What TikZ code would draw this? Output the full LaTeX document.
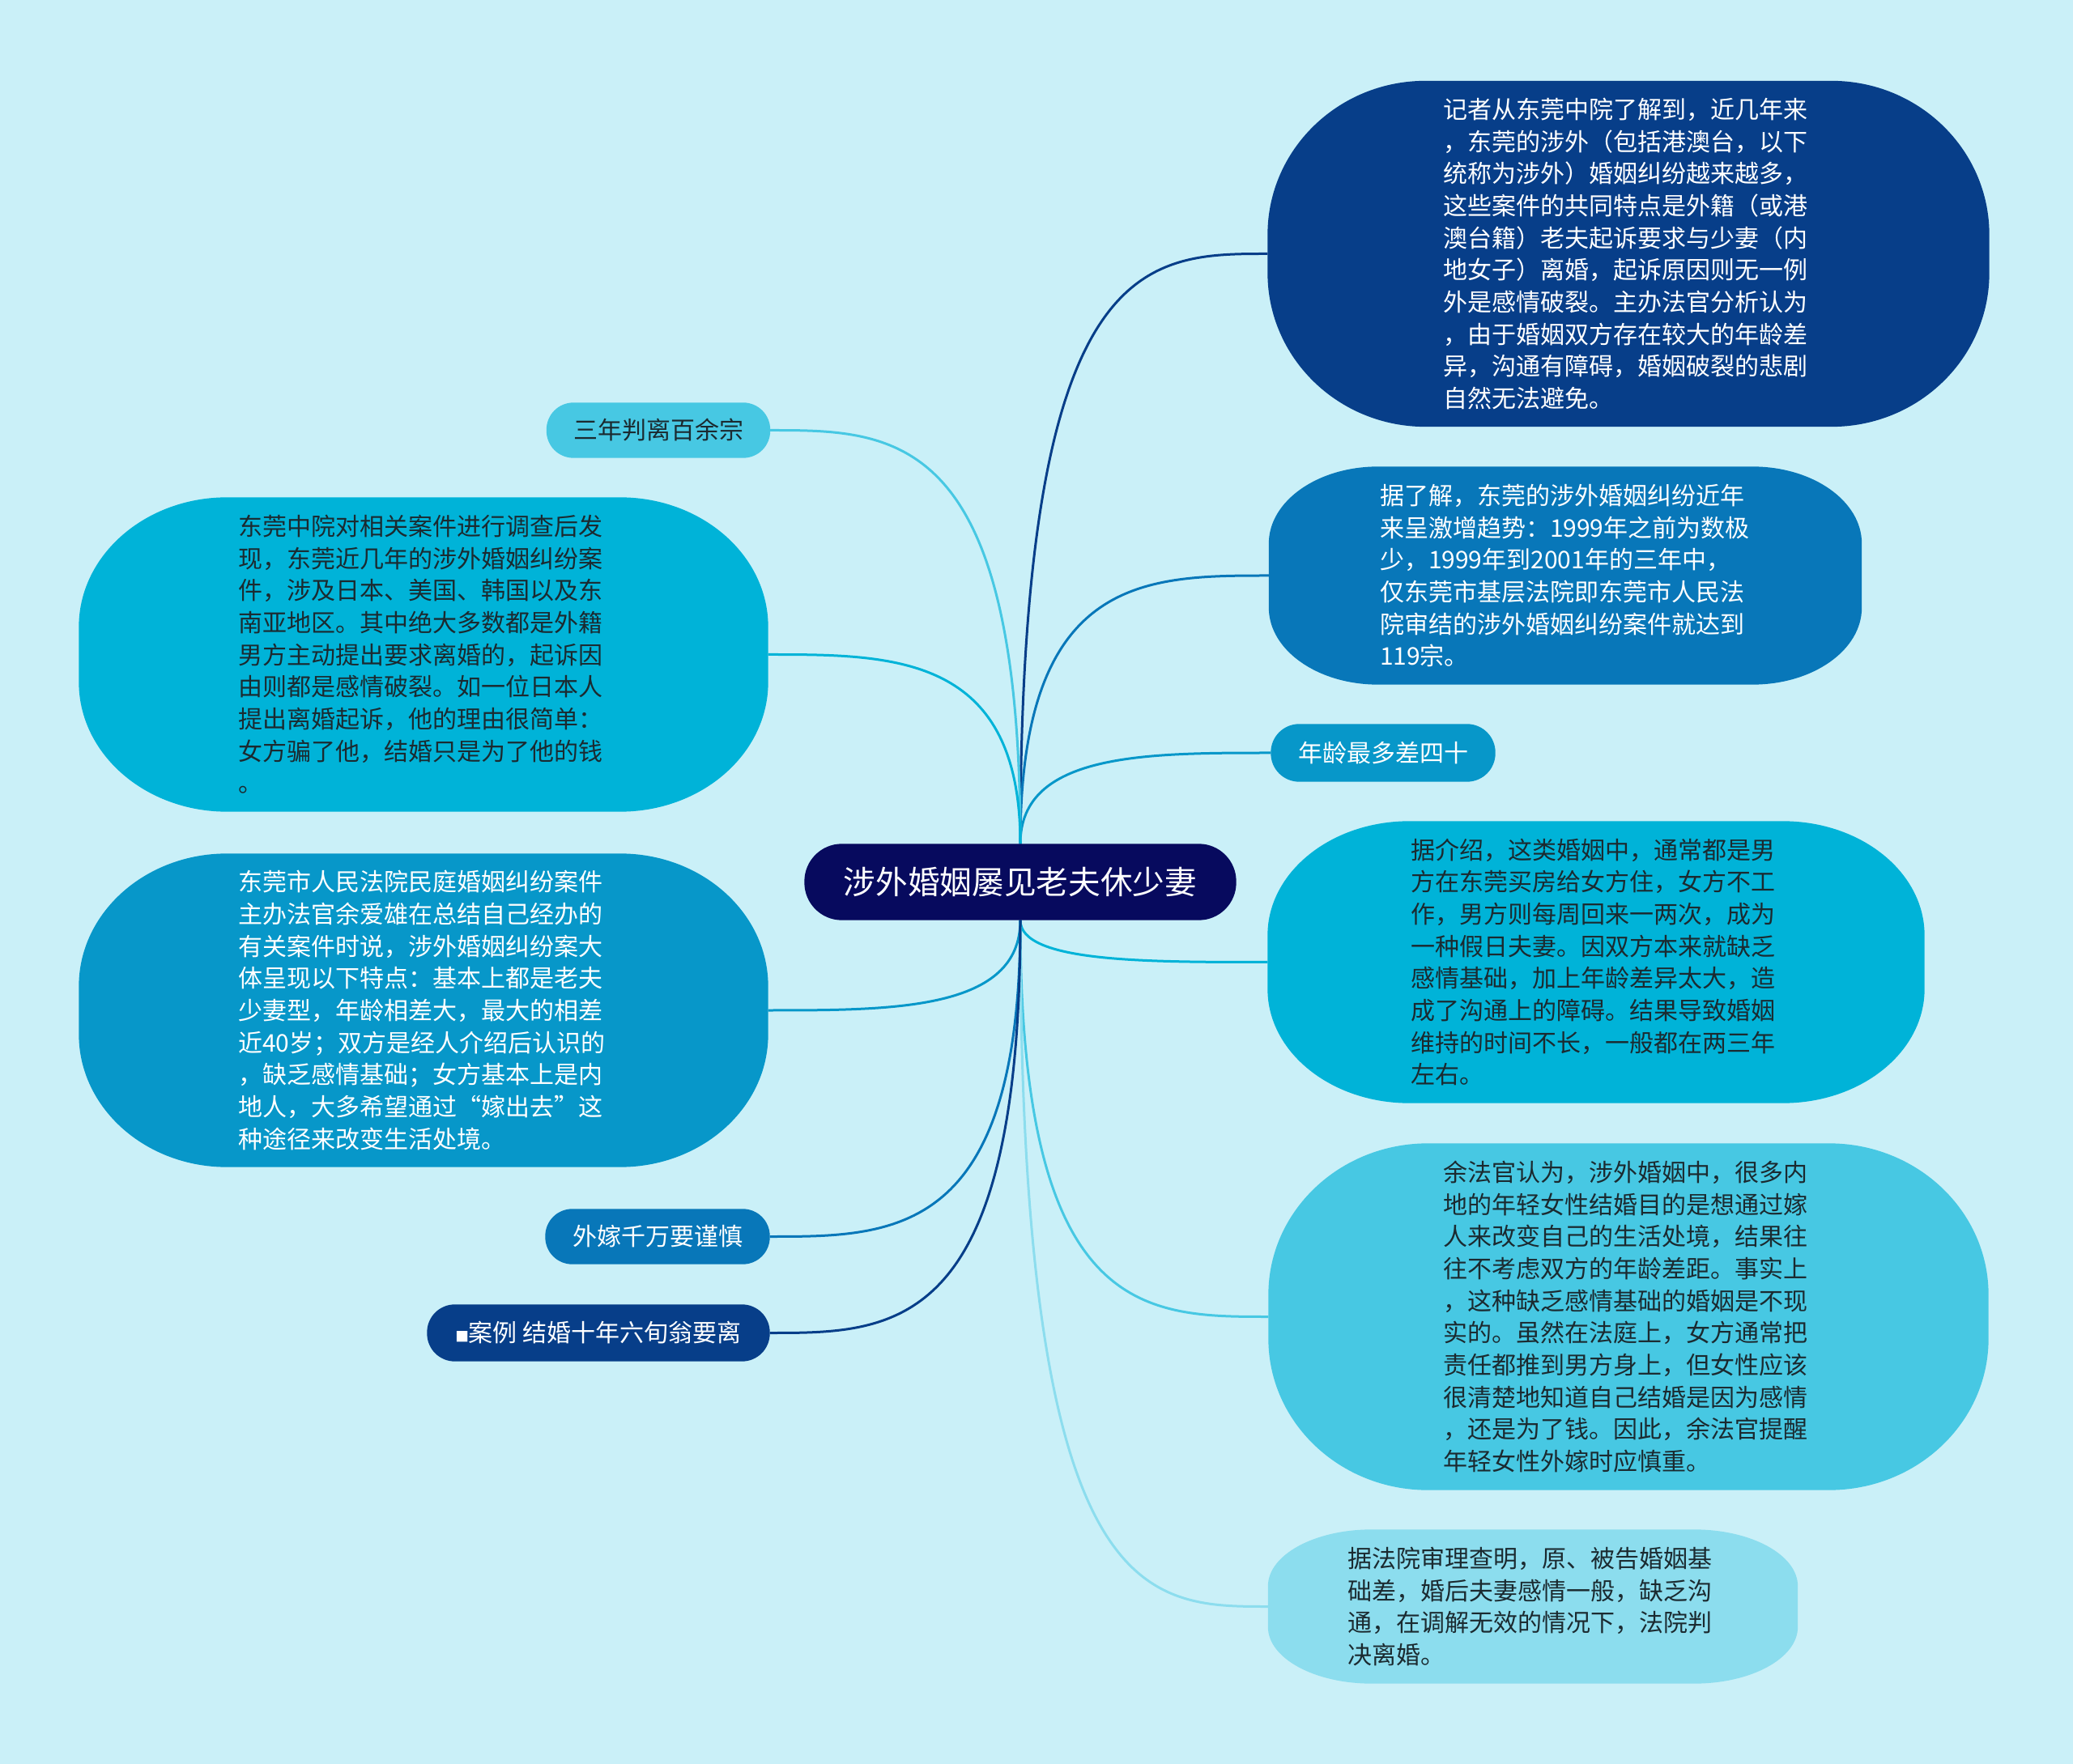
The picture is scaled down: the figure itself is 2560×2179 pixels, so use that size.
\documentclass[tikz,border=0pt]{standalone}
\usepackage{fontspec}
\setmainfont{Noto Sans CJK SC}
\usetikzlibrary{calc}
\definecolor{bgc}{HTML}{CAF0F8}
\definecolor{cnav}{HTML}{070A5E}
\definecolor{cA}{HTML}{073E89}
\definecolor{cB}{HTML}{0877B9}
\definecolor{cC}{HTML}{0797C9}
\definecolor{cD}{HTML}{00B3D8}
\definecolor{cE}{HTML}{47C8E3}
\definecolor{cF}{HTML}{8CDDEE}
\definecolor{dtext}{HTML}{1B2A30}
\pgfdeclarelayer{bglayer}
\pgfdeclarelayer{shapelayer}
\pgfsetlayers{bglayer,shapelayer,main}
\newcommand\pillfill[4]{%
 \fill[#4] let \p1=(#1.north west), \p2=(#1.south east) in
  (\x1+#2,\y1) -- (\x2-#2,\y1) arc[start angle=90,end angle=0,x radius=#2,y radius=#3]
  -- (\x2,\y2+#3) arc[start angle=0,end angle=-90,x radius=#2,y radius=#3]
  -- (\x1+#2,\y2) arc[start angle=-90,end angle=-180,x radius=#2,y radius=#3]
  -- (\x1,\y1-#3) arc[start angle=180,end angle=90,x radius=#2,y radius=#3] -- cycle;}
\newcommand\mmlink[3]{%
 \coordinate (kk) at (#1 |- #2);
 \draw[link,#3] (#1) .. controls (kk) and ($(kk)!0.5!(#2)$) .. (#2);}
\tikzset{
 body/.style={inner sep=0pt, align=left, text width=137.4pt, font=\fontsize{9pt}{11.9pt}\selectfont},
 tag/.style={inner sep=0pt, align=center, font=\fontsize{9pt}{11.9pt}\selectfont},
 link/.style={line width=0.9pt},
}
\begin{document}
\begin{tikzpicture}[x=0.3pt,y=-0.3pt]
% central topic
\node[inner sep=0pt, minimum width=159.6pt, minimum height=27.9pt, text=white,
      font=\fontsize{11.9pt}{14pt}\selectfont] (c) at (1260,1089.5) {涉外婚姻屡见老夫休少妻};
% right side
\node[body, text=white, minimum width=267pt, minimum height=127.8pt] (r1) at (2011,313.5) {记者从东莞中院了解到，近几年来\\，东莞的涉外（包括港澳台，以下\\统称为涉外）婚姻纠纷越来越多，\\这些案件的共同特点是外籍（或港\\澳台籍）老夫起诉要求与少妻（内\\地女子）离婚，起诉原因则无一例\\外是感情破裂。主办法官分析认为\\，由于婚姻双方存在较大的年龄差\\异，沟通有障碍，婚姻破裂的悲剧\\自然无法避免。};
\node[body, text=white, minimum width=219.3pt, minimum height=80.4pt] (r2) at (1933,711) {据了解，东莞的涉外婚姻纠纷近年\\来呈激增趋势：1999年之前为数极\\少，1999年到2001年的三年中，\\仅东莞市基层法院即东莞市人民法\\院审结的涉外婚姻纠纷案件就达到\\119宗。};
\node[tag, text=white, minimum width=82.8pt, minimum height=21pt] (r3) at (1708,930) {年龄最多差四十};
\node[body, text=dtext, minimum width=243pt, minimum height=104.1pt] (r4) at (1971,1188.5) {据介绍，这类婚姻中，通常都是男\\方在东莞买房给女方住，女方不工\\作，男方则每周回来一两次，成为\\一种假日夫妻。因双方本来就缺乏\\感情基础，加上年龄差异太大，造\\成了沟通上的障碍。结果导致婚姻\\维持的时间不长，一般都在两三年\\左右。};
\node[body, text=dtext, minimum width=266.4pt, minimum height=128.1pt] (r5) at (2011,1626.5) {余法官认为，涉外婚姻中，很多内\\地的年轻女性结婚目的是想通过嫁\\人来改变自己的生活处境，结果往\\往不考虑双方的年龄差距。事实上\\，这种缺乏感情基础的婚姻是不现\\实的。虽然在法庭上，女方通常把\\责任都推到男方身上，但女性应该\\很清楚地知道自己结婚是因为感情\\，还是为了钱。因此，余法官提醒\\年轻女性外嫁时应慎重。};
\node[body, text=dtext, minimum width=195.9pt, minimum height=56.7pt] (r6) at (1893,1984.5) {据法院审理查明，原、被告婚姻基\\础差，婚后夫妻感情一般，缺乏沟\\通，在调解无效的情况下，法院判\\决离婚。};
% left side
\node[tag, text=dtext, minimum width=82.5pt, minimum height=20.1pt] (l1) at (813,531.5) {三年判离百余宗};
\node[body, text=dtext, minimum width=255pt, minimum height=116.1pt] (l2) at (523,808.5) {东莞中院对相关案件进行调查后发\\现，东莞近几年的涉外婚姻纠纷案\\件，涉及日本、美国、韩国以及东\\南亚地区。其中绝大多数都是外籍\\男方主动提出要求离婚的，起诉因\\由则都是感情破裂。如一位日本人\\提出离婚起诉，他的理由很简单：\\女方骗了他，结婚只是为了他的钱\\。};
\node[body, text=white, minimum width=255pt, minimum height=115.8pt] (l3) at (523,1248) {东莞市人民法院民庭婚姻纠纷案件\\主办法官余爱雄在总结自己经办的\\有关案件时说，涉外婚姻纠纷案大\\体呈现以下特点：基本上都是老夫\\少妻型，年龄相差大，最大的相差\\近40岁；双方是经人介绍后认识的\\，缺乏感情基础；女方基本上是内\\地人，大多希望通过“嫁出去”这\\种途径来改变生活处境。};
\node[tag, text=white, minimum width=82.8pt, minimum height=20.1pt] (l4) at (812,1527.5) {外嫁千万要谨慎};
\node[tag, text=white, minimum width=126.6pt, minimum height=20.7pt] (l5) at (739,1646.5) {{\fontsize{5pt}{6pt}\selectfont ■}案例 结婚十年六旬翁要离};
\begin{pgfonlayer}{bglayer}
\fill[bgc] (0,0) rectangle (2560,2179);
\mmlink{c.north}{r1.west}{cA}
\mmlink{c.north}{r2.west}{cB}
\mmlink{c.north}{r3.west}{cC}
\mmlink{c.south}{r4.west}{cD}
\mmlink{c.south}{r5.west}{cE}
\mmlink{c.south}{r6.west}{cF}
\mmlink{c.north}{l1.east}{cE}
\mmlink{c.north}{l2.east}{cD}
\mmlink{c.south}{l3.east}{cC}
\mmlink{c.south}{l4.east}{cB}
\mmlink{c.south}{l5.east}{cA}
\end{pgfonlayer}
\begin{pgfonlayer}{shapelayer}
\pillfill{c}{13.9pt}{13.9pt}{cnav}
\pillfill{r1}{58.5pt}{57pt}{cA}
\pillfill{r2}{40.5pt}{28.5pt}{cB}
\pillfill{r3}{10.5pt}{10.5pt}{cC}
\pillfill{r4}{52.5pt}{42.3pt}{cD}
\pillfill{r5}{59.1pt}{56.1pt}{cE}
\pillfill{r6}{38.4pt}{21pt}{cF}
\pillfill{l1}{10pt}{10pt}{cE}
\pillfill{l2}{54.9pt}{48pt}{cD}
\pillfill{l3}{54.9pt}{49.2pt}{cC}
\pillfill{l4}{10pt}{10pt}{cB}
\pillfill{l5}{10.3pt}{10.3pt}{cA}
\end{pgfonlayer}
\end{tikzpicture}
\end{document}
